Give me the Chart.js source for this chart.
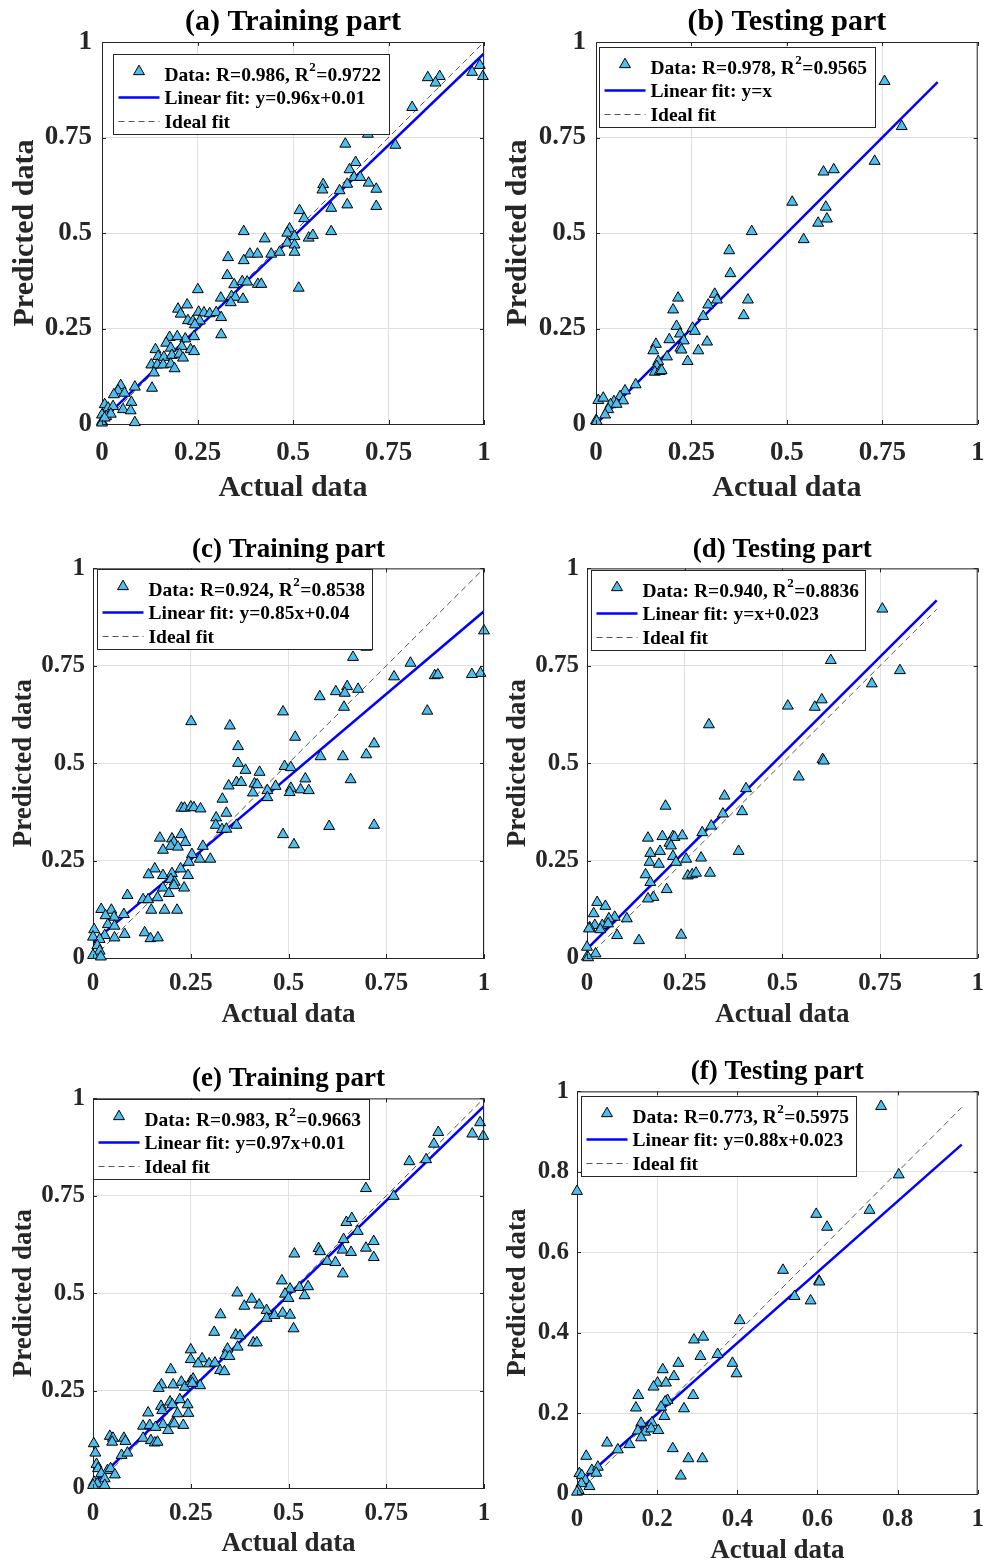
<!DOCTYPE html>
<html>
<head>
<meta charset="utf-8">
<script src="https://cdn.jsdelivr.net/npm/chart.js@4.4.1/dist/chart.umd.min.js"></script>
<style>
  body { margin: 0; background: #fff; width: 985px; height: 1562px; position: relative; overflow: hidden; }
  canvas { position: absolute; }
</style>
</head>
<body>
<canvas id="pa"></canvas>
<canvas id="pb"></canvas>
<canvas id="pc"></canvas>
<canvas id="pd"></canvas>
<canvas id="pe"></canvas>
<canvas id="pf"></canvas>
<script>
// tick labels
var quarterTicks = [0, 0.25, 0.5, 0.75, 1];
var fifthTicks = [0, 0.2, 0.4, 0.6, 0.8, 1];

// (a) training
var aActual = [0.989,0.969,0.997,0.853,0.884,0.873,0.812,0.696,0.637,0.768,0.664,0.648,0.660,0.676,0.642,0.698,0.718,0.579,0.577,0.622,0.600,0.642,0.718,0.517,0.529,0.600,0.491,0.485,0.504,0.541,0.552,0.485,0.504,0.504,0.371,0.426,0.330,0.387,0.407,0.371,0.443,0.465,0.328,0.346,0.367,0.380,0.408,0.417,0.251,0.515,0.311,0.339,0.349,0.369,0.337,0.199,0.223,0.206,0.253,0.267,0.282,0.299,0.312,0.225,0.238,0.256,0.243,0.312,0.241,0.218,0.177,0.197,0.168,0.140,0.180,0.209,0.232,0.241,0.147,0.162,0.183,0.203,0.212,0.129,0.145,0.160,0.180,0.190,0.136,0.131,0.049,0.042,0.086,0.059,0.031,0.077,0.055,0.075,0.086,0.007,0.016,0.029,0,0.011,0.023,0,0,0.007];
var aPredicted = [0.939,0.921,0.910,0.907,0.910,0.893,0.829,0.759,0.733,0.730,0.685,0.666,0.646,0.646,0.628,0.631,0.615,0.627,0.613,0.611,0.565,0.574,0.570,0.559,0.538,0.504,0.511,0.500,0.491,0.487,0.494,0.474,0.469,0.450,0.504,0.485,0.436,0.445,0.445,0.428,0.445,0.450,0.389,0.365,0.373,0.372,0.366,0.366,0.352,0.356,0.330,0.334,0.332,0.327,0.318,0.301,0.312,0.288,0.293,0.291,0.289,0.292,0.279,0.271,0.269,0.270,0.260,0.234,0.229,0.223,0.227,0.229,0.212,0.195,0.199,0.203,0.195,0.190,0.177,0.175,0.180,0.183,0.173,0.155,0.155,0.155,0.157,0.145,0.134,0.094,0.101,0.087,0.097,0.081,0.077,0.057,0.038,0.035,0.004,0.051,0.042,0.046,0.024,0.020,0.026,0.007,0.003,0.016];

// (b) testing
var bActual = [0.756,0.801,0.730,0.596,0.623,0.514,0.602,0.582,0.605,0.544,0.408,0.349,0.352,0.311,0.317,0.294,0.281,0.398,0.387,0.215,0.202,0.211,0.220,0.253,0.259,0.192,0.230,0.221,0.224,0.291,0.268,0.240,0.157,0.150,0.186,0.163,0.159,0.154,0.167,0.172,0.104,0.076,0.063,0.071,0.047,0.038,0.054,0.032,0.006,0.019,0.024,0,0.002];
var bPredicted = [0.897,0.779,0.688,0.660,0.666,0.581,0.568,0.526,0.537,0.483,0.504,0.454,0.394,0.340,0.325,0.312,0.282,0.325,0.284,0.330,0.299,0.256,0.236,0.251,0.243,0.221,0.218,0.199,0.194,0.215,0.192,0.164,0.209,0.192,0.176,0.164,0.151,0.136,0.138,0.140,0.103,0.087,0.072,0.061,0.059,0.051,0.052,0.038,0.062,0.068,0.024,0.009,0.007];

// (c) training
var cActual = [1.0,0.991,0.969,0.874,0.882,0.812,0.770,0.855,0.699,0.665,0.650,0.621,0.644,0.678,0.580,0.642,0.486,0.251,0.350,0.517,0.719,0.371,0.582,0.639,0.699,0.371,0.490,0.506,0.390,0.426,0.543,0.659,0.367,0.379,0.347,0.413,0.420,0.467,0.446,0.506,0.503,0.531,0.552,0.409,0.446,0.331,0.226,0.234,0.250,0.258,0.275,0.315,0.341,0.314,0.367,0.330,0.341,0.604,0.719,0.486,0.514,0.171,0.202,0.226,0.207,0.236,0.199,0.217,0.179,0.281,0.253,0.273,0.300,0.245,0.158,0.142,0.179,0.202,0.224,0.243,0.199,0.209,0.207,0.233,0.179,0.194,0.088,0.128,0.141,0.165,0.149,0.183,0.215,0.132,0.147,0.166,0.021,0.047,0.079,0.054,0.032,0.038,0.055,0.081,0.003,0,0.030,0.017,0.055,0.011,0.017,0,0.020];
var cPredicted = [0.840,0.731,0.728,0.725,0.727,0.757,0.722,0.634,0.798,0.772,0.697,0.684,0.680,0.690,0.671,0.644,0.632,0.607,0.596,0.567,0.550,0.543,0.517,0.517,0.522,0.500,0.492,0.489,0.482,0.477,0.460,0.458,0.451,0.451,0.442,0.447,0.445,0.441,0.430,0.436,0.425,0.432,0.430,0.424,0.412,0.408,0.385,0.385,0.388,0.386,0.383,0.360,0.372,0.341,0.341,0.330,0.331,0.338,0.341,0.317,0.291,0.308,0.306,0.317,0.297,0.297,0.287,0.285,0.277,0.287,0.266,0.254,0.254,0.246,0.229,0.214,0.212,0.217,0.229,0.212,0.202,0.195,0.186,0.180,0.180,0.166,0.161,0.150,0.150,0.155,0.123,0.123,0.123,0.065,0.050,0.052,0.125,0.123,0.112,0.105,0.109,0.086,0.082,0.061,0.073,0.054,0.058,0.048,0.052,0.032,0.018,0.007,0.003];

// (d) testing
var dActual = [0.756,0.624,0.801,0.729,0.514,0.583,0.601,0.312,0.603,0.606,0.542,0.407,0.352,0.201,0.348,0.397,0.318,0.295,0.156,0.193,0.220,0.224,0.244,0.211,0.215,0.162,0.187,0.220,0.292,0.254,0.388,0.160,0.184,0.228,0.150,0.162,0.258,0.269,0.279,0.315,0.204,0.170,0.156,0.102,0.071,0.056,0.026,0.047,0.017,0.020,0.039,0.054,0.007,0.005,0.034,0.077,0.133,0.241,0,0.022,0,0.003];
var dPredicted = [0.896,0.764,0.738,0.704,0.647,0.644,0.663,0.599,0.510,0.506,0.465,0.435,0.416,0.390,0.370,0.376,0.339,0.322,0.308,0.312,0.312,0.310,0.314,0.295,0.288,0.269,0.274,0.261,0.257,0.254,0.274,0.246,0.241,0.246,0.214,0.194,0.211,0.214,0.218,0.218,0.176,0.156,0.152,0.101,0.105,0.101,0.143,0.133,0.114,0.084,0.084,0.088,0.078,0.075,0.073,0.058,0.045,0.059,0.028,0.011,0.003,0.001];

// (e) training
var eActual = [0.990,0.970,0.998,0.883,0.872,0.852,0.809,0.698,0.769,0.648,0.662,0.677,0.641,0.638,0.660,0.698,0.718,0.718,0.577,0.581,0.515,0.599,0.620,0.639,0.483,0.504,0.491,0.500,0.528,0.550,0.541,0.369,0.406,0.387,0.425,0.444,0.444,0.464,0.485,0.504,0.513,0.326,0.310,0.365,0.376,0.410,0.419,0.370,0.344,0.338,0.349,0.250,0.250,0.279,0.269,0.297,0.312,0.325,0.336,0.199,0.175,0.168,0.205,0.226,0.235,0.250,0.256,0.274,0.254,0.174,0.197,0.203,0.222,0.242,0.177,0.141,0.216,0.244,0.128,0.145,0.179,0.205,0.231,0.160,0.192,0.208,0.128,0.148,0.158,0.165,0.043,0.051,0.049,0.079,0.083,0.002,0.006,0.073,0.088,0.009,0.013,0.037,0.045,0.056,0.021,0.030,0.003,0.011,0.030,0];
var ePredicted = [0.938,0.909,0.903,0.913,0.883,0.843,0.838,0.769,0.749,0.682,0.692,0.659,0.638,0.611,0.605,0.616,0.633,0.592,0.615,0.607,0.601,0.582,0.579,0.550,0.532,0.511,0.498,0.487,0.515,0.517,0.494,0.501,0.485,0.467,0.470,0.456,0.436,0.443,0.449,0.444,0.409,0.445,0.400,0.393,0.391,0.373,0.373,0.362,0.357,0.340,0.338,0.355,0.330,0.332,0.319,0.319,0.321,0.302,0.299,0.304,0.265,0.256,0.265,0.272,0.259,0.274,0.280,0.263,0.269,0.210,0.221,0.214,0.227,0.214,0.199,0.193,0.191,0.192,0.159,0.161,0.163,0.168,0.161,0.156,0.148,0.165,0.128,0.122,0.116,0.118,0.133,0.128,0.118,0.128,0.120,0.114,0.090,0.084,0.090,0.061,0.050,0.045,0.050,0.034,0.037,0.024,0.015,0.011,0.007,0.007];

// (f) testing
var fActual = [0.759,0.803,0.730,0.597,0.624,0.514,0.604,0.605,0.543,0.583,0.406,0,0.292,0.315,0.308,0.351,0.388,0.398,0.253,0.214,0.242,0.201,0.222,0.191,0.153,0.147,0.290,0.226,0.220,0.210,0.218,0.267,0.160,0.187,0.152,0.170,0.185,0.203,0.160,0.075,0.102,0.131,0.239,0.278,0.313,0.259,0.023,0.037,0.052,0.048,0.006,0.012,0.021,0.031,0.011,0.004,0];
var fPredicted = [0.963,0.793,0.705,0.695,0.663,0.556,0.529,0.527,0.491,0.480,0.431,0.752,0.383,0.390,0.342,0.347,0.325,0.299,0.325,0.309,0.292,0.276,0.276,0.266,0.245,0.214,0.245,0.233,0.229,0.216,0.193,0.212,0.176,0.177,0.157,0.154,0.162,0.158,0.140,0.127,0.110,0.123,0.113,0.088,0.088,0.045,0.094,0.059,0.067,0.052,0.051,0.046,0.034,0.019,0.026,0.009,0.005];

// titles, legend numbers and fit lines
var panelTitles = ['(a) Training part', '(b) Testing part', '(c) Training part', '(d) Testing part', '(e) Training part', '(f) Testing part'];
var rValues = ['0.986', '0.978', '0.924', '0.940', '0.983', '0.773'];
var r2Values = ['0.9722', '0.9565', '0.8538', '0.8836', '0.9663', '0.5975'];
var fitLabels = ['y=0.96x+0.01', 'y=x', 'y=0.85x+0.04', 'y=x+0.023', 'y=0.97x+0.01', 'y=0.88x+0.023'];
var fitSlopes = [0.96, 1, 0.85, 1, 0.97, 0.88];
var fitIntercepts = [0.01, 0, 0.04, 0.023, 0.01, 0.023];
var fitEnds = [1, 0.895, 1, 0.895, 1, 0.96];

var actuals = [aActual, bActual, cActual, dActual, eActual, fActual];
var predicteds = [aPredicted, bPredicted, cPredicted, dPredicted, ePredicted, fPredicted];
var tickSets = [quarterTicks, quarterTicks, quarterTicks, quarterTicks, quarterTicks, fifthTicks];

// page placement of each panel
var layouts = [
  { id: 'pa', left: 0,   top: 0,    w: 492, h: 510, yw: 102, xh: 86, pr: 8, big: true,  tp: [4, 2],  ytp: 7,  xtp: 4,  lg: [11, 12, 276] },
  { id: 'pb', left: 492, top: 0,    w: 493, h: 510, yw: 104, xh: 86, pr: 7, big: true,  tp: [4, 2],  ytp: 8,  xtp: 4,  lg: [3, 5, 276] },
  { id: 'pc', left: 0,   top: 515,  w: 492, h: 530, yw: 93,  xh: 87, pr: 8, big: false, tp: [19, 2], ytp: 8,  xtp: 14, lg: [4, 1, 275] },
  { id: 'pd', left: 492, top: 515,  w: 493, h: 530, yw: 95,  xh: 87, pr: 7, big: false, tp: [19, 2], ytp: 10, xtp: 14, lg: [4, 2, 274] },
  { id: 'pe', left: 0,   top: 1045, w: 492, h: 517, yw: 93,  xh: 74, pr: 8, big: false, tp: [18, 3], ytp: 8,  xtp: 2,  lg: [0, 1, 276] },
  { id: 'pf', left: 492, top: 1045, w: 493, h: 525, yw: 85,  xh: 76, pr: 6, big: false, tp: [11, 3], ytp: 10, xtp: 3,  lg: [4, 5, 275] }
];

var SERIF = "'Liberation Serif', 'Times New Roman', serif";
var MARKER_FILL = '#4dbeee';
var MARKER_R = 6.3;

function triangle(ctx, x, y, r) {
  ctx.beginPath();
  ctx.moveTo(x, y - r);
  ctx.lineTo(x + r * 0.866, y + r * 0.5);
  ctx.lineTo(x - r * 0.866, y + r * 0.5);
  ctx.closePath();
  ctx.fillStyle = MARKER_FILL;
  ctx.fill();
  ctx.strokeStyle = '#000';
  ctx.lineWidth = 1;
  ctx.stroke();
}

// box on, inward ticks and the legend
var framePlugin = {
  id: 'frame',
  afterDatasetsDraw: function (chart, args, opts) {
    var ctx = chart.ctx, a = chart.chartArea;
    var xs = chart.scales.x, ys = chart.scales.y;
    ctx.save();
    ctx.strokeStyle = '#262626';
    ctx.lineWidth = 1;
    ctx.beginPath();
    ctx.moveTo(a.left, a.top + 0.5); ctx.lineTo(a.right, a.top + 0.5);
    ctx.moveTo(a.right - 0.5, a.top); ctx.lineTo(a.right - 0.5, a.bottom);
    xs.ticks.forEach(function (t) {
      var px = Math.round(xs.getPixelForValue(t.value)) + 0.5;
      ctx.moveTo(px, a.bottom); ctx.lineTo(px, a.bottom - 4);
      ctx.moveTo(px, a.top); ctx.lineTo(px, a.top + 4);
    });
    ys.ticks.forEach(function (t) {
      var py = Math.round(ys.getPixelForValue(t.value)) + 0.5;
      ctx.moveTo(a.left, py); ctx.lineTo(a.left + 4, py);
      ctx.moveTo(a.right, py); ctx.lineTo(a.right - 4, py);
    });
    ctx.stroke();

    // legend
    var lx = Math.round(a.left + opts.lg[0]) + 0.5;
    var ly = Math.round(a.top + opts.lg[1]) + 0.5;
    var lw = opts.lg[2], lh = 80;
    ctx.fillStyle = '#fff';
    ctx.fillRect(lx, ly, lw, lh);
    ctx.strokeStyle = '#262626';
    ctx.strokeRect(lx, ly, lw, lh);

    triangle(ctx, lx + 25.5, ly + 17, MARKER_R);

    ctx.strokeStyle = '#0000ff';
    ctx.lineWidth = 2.5;
    ctx.beginPath();
    ctx.moveTo(lx + 5, ly + 43); ctx.lineTo(lx + 46, ly + 43);
    ctx.stroke();

    ctx.strokeStyle = '#555';
    ctx.lineWidth = 1;
    ctx.setLineDash([6, 4]);
    ctx.beginPath();
    ctx.moveTo(lx + 5, ly + 67); ctx.lineTo(lx + 46, ly + 67);
    ctx.stroke();
    ctx.setLineDash([]);

    ctx.fillStyle = '#000';
    ctx.textBaseline = 'middle';
    ctx.textAlign = 'left';
    ctx.font = 'bold 19.5px ' + SERIF;
    var tx = lx + 51;
    var s1 = 'Data: R=' + opts.r + ', R';
    ctx.fillText(s1, tx, ly + 21);
    var w1 = ctx.measureText(s1).width;
    ctx.font = 'bold 13px ' + SERIF;
    ctx.fillText('2', tx + w1 + 0.5, ly + 13);
    var w2 = ctx.measureText('2').width;
    ctx.font = 'bold 19.5px ' + SERIF;
    ctx.fillText('=' + opts.r2, tx + w1 + w2 + 1, ly + 21);
    ctx.fillText('Linear fit: ' + opts.fit, tx, ly + 44);
    ctx.fillText('Ideal fit', tx, ly + 68);
    ctx.restore();
  }
};

function makePanel(i) {
  var L = layouts[i];
  var canvas = document.getElementById(L.id);
  canvas.width = L.w;
  canvas.height = L.h;
  canvas.style.left = L.left + 'px';
  canvas.style.top = L.top + 'px';

  var titleSize = L.big ? 30 : 27;
  var tickSize = L.big ? 27 : 25;
  var ticks = tickSets[i];

  var points = actuals[i].map(function (v, k) { return { x: v, y: predicteds[i][k] }; });
  var m = fitSlopes[i], b = fitIntercepts[i], xe = fitEnds[i];
  var fitLine = [{ x: 0, y: b }, { x: xe, y: m * xe + b }];
  var idealLine = [{ x: 0, y: 0 }, { x: xe, y: xe }];

  function axis(titleText, isY) {
    return {
      type: 'linear',
      min: 0,
      max: 1,
      afterBuildTicks: function (s) { s.ticks = ticks.map(function (v) { return { value: v }; }); },
      afterFit: function (s) {
        if (isY) {
          s.width = L.yw;
        } else {
          s.height = L.xh;
          s.paddingLeft = 0;
          s.paddingRight = 0;
        }
      },
      grid: { color: '#dfdfdf', lineWidth: 1, drawTicks: false },
      border: { display: true, color: '#262626', width: 1 },
      ticks: {
        autoSkip: false,
        maxRotation: 0,
        padding: isY ? (L.big ? 10 : 8) : (L.big ? 13 : 11),
        color: '#262626',
        font: { family: SERIF, size: tickSize, weight: 'bold' },
        callback: function (v) { return String(v); }
      },
      title: {
        display: true,
        text: titleText,
        color: '#262626',
        font: { family: SERIF, size: titleSize, weight: 'bold', lineHeight: 1.2 },
        padding: isY ? { top: L.ytp, bottom: 0 } : { top: 0, bottom: L.xtp }
      }
    };
  }

  new Chart(canvas, {
    type: 'scatter',
    data: {
      datasets: [
        {
          label: 'Data',
          data: points,
          pointStyle: 'triangle',
          pointRadius: MARKER_R,
          backgroundColor: MARKER_FILL,
          borderColor: '#000',
          borderWidth: 1,
          clip: false
        },
        {
          label: 'Linear fit',
          data: fitLine,
          showLine: true,
          pointRadius: 0,
          borderColor: '#0000ff',
          borderWidth: 2.5
        },
        {
          label: 'Ideal fit',
          data: idealLine,
          showLine: true,
          pointRadius: 0,
          borderColor: '#555',
          borderWidth: 1,
          borderDash: [6, 4]
        }
      ]
    },
    options: {
      responsive: false,
      animation: false,
      devicePixelRatio: 1,
      layout: { padding: { left: 0, top: 0, right: L.pr, bottom: 0 } },
      scales: {
        x: axis('Actual data', false),
        y: axis('Predicted data', true)
      },
      plugins: {
        legend: { display: false },
        tooltip: { enabled: false },
        title: {
          display: true,
          text: panelTitles[i],
          fullSize: false,
          color: '#000',
          font: { family: SERIF, size: titleSize, weight: 'bold', lineHeight: 1.2 },
          padding: { top: L.tp[0], bottom: L.tp[1] }
        },
        frame: { lg: L.lg, r: rValues[i], r2: r2Values[i], fit: fitLabels[i] }
      }
    },
    plugins: [framePlugin]
  });
}

for (var i = 0; i < 6; i++) makePanel(i);
</script>
</body>
</html>
